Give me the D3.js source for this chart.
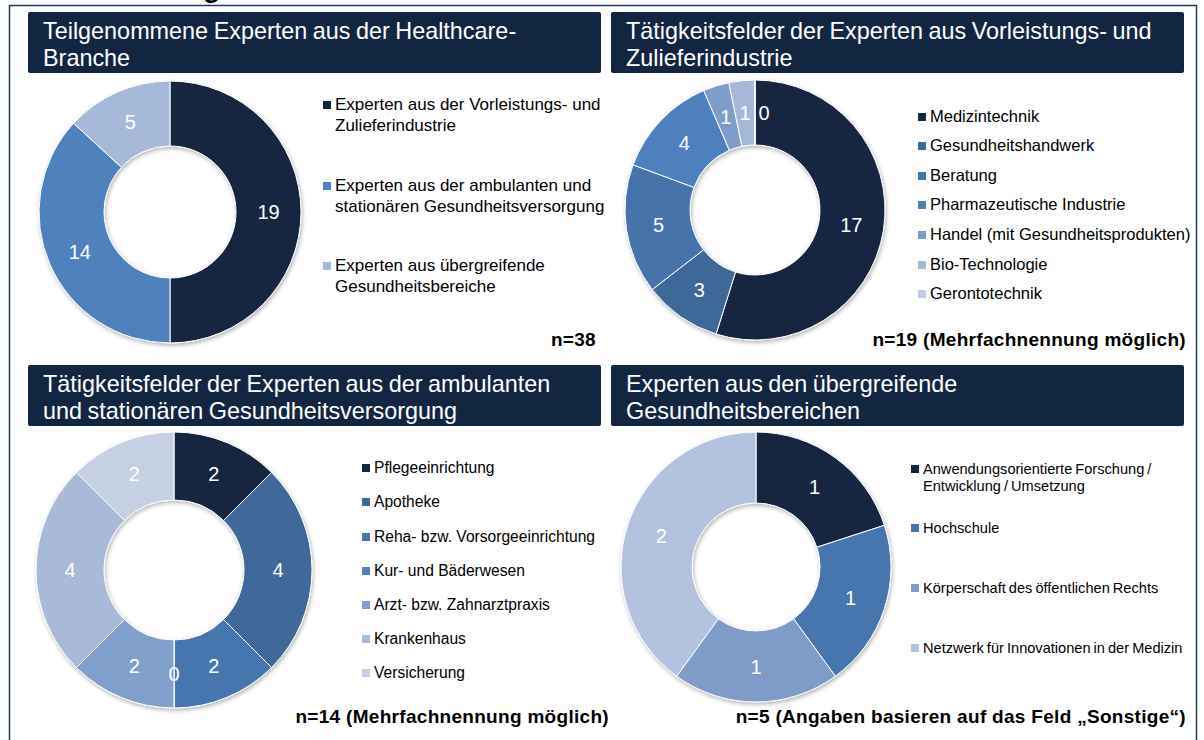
<!DOCTYPE html>
<html>
<head>
<meta charset="utf-8">
<script src="https://cdn.jsdelivr.net/npm/d3@7/dist/d3.min.js"></script>
<style>
  body { margin: 0; background: #fff; }
  svg { display: block; font-family: "Liberation Sans", Arial, sans-serif; }
</style>
</head>
<body>
<svg id="chart" width="1204" height="740"></svg>
<script>
// --- data ---
const branchenLabels = [
    ["Experten aus der Vorleistungs- und", "Zulieferindustrie"],
    ["Experten aus der ambulanten und", "stationären Gesundheitsversorgung"],
    ["Experten aus  übergreifende", "Gesundheitsbereiche"]
];
const branchenValues = [19, 14, 5];

const zulieferLabels = [
    "Medizintechnik", "Gesundheitshandwerk", "Beratung", "Pharmazeutische Industrie",
    "Handel (mit Gesundheitsprodukten)", "Bio-Technologie", "Gerontotechnik"
];
const zulieferValues = [17, 3, 5, 4, 1, 1, 0];

const versorgungLabels = [
    "Pflegeeinrichtung", "Apotheke", "Reha- bzw. Vorsorgeeinrichtung", "Kur- und Bäderwesen",
    "Arzt- bzw. Zahnarztpraxis", "Krankenhaus", "Versicherung"
];
const versorgungValues = [2, 4, 2, 0, 2, 4, 2];

const uebergreifendLabels = [
    ["Anwendungsorientierte Forschung /", "Entwicklung / Umsetzung"],
    ["Hochschule"],
    ["Körperschaft des öffentlichen Rechts"],
    ["Netzwerk für Innovationen in der Medizin"]
];
const uebergreifendValues = [1, 1, 1, 2];

// --- colours ---
const navy = "#132641";
const branchenColors = [navy, "#4f81bd", "#a7b9d8"];
const zulieferColors = [navy, "#3e6797", "#4573aa", "#4e80bd", "#7e9dca", "#a6b8d8", "#c3cfe4"];
const versorgungColors = [navy, "#3f6898", "#4776ae", "#4f81bd", "#809fcb", "#a9b9d8", "#c5d0e3"];
const uebergreifendColors = [navy, "#4675ae", "#7f9cc8", "#b3c3df"];

const svg = d3.select("#chart");

const defs = svg.append("defs");
defs.append("filter")
    .attr("id", "shadow")
    .attr("x", "-20%").attr("y", "-20%")
    .attr("width", "140%").attr("height", "140%")
    .append("feDropShadow")
    .attr("dx", 1).attr("dy", 2)
    .attr("stdDeviation", 2)
    .attr("flood-color", "#000")
    .attr("flood-opacity", 0.3);

// heading of the slide, cut off at the top edge (as in the original)
svg.append("text")
    .attr("x", 203).attr("y", -3)
    .attr("font-size", 28)
    .attr("font-weight", "bold")
    .text("g");

// outer frame
svg.append("rect")
    .attr("x", 9.5).attr("y", 5.5)
    .attr("width", 1187).attr("height", 760)
    .attr("fill", "none")
    .attr("stroke", "#1f3864")
    .attr("stroke-width", 1.5);

const panels = [
    {
        title: ["Teilgenommene Experten aus der Healthcare-", "Branche"],
        bar: [28, 12], labels: branchenLabels, values: branchenValues, colors: branchenColors,
        cx: 170, cy: 212, r0: 66, r1: 131, zeroShift: 0,
        legend: { x: 323, y: [110, 191, 271], line: 21, size: 17, ws: 0 },
        note: "n=38", noteX: 596, noteY: 346
    },
    {
        title: ["Tätigkeitsfelder der Experten aus Vorleistungs- und", "Zulieferindustrie"],
        bar: [611, 12], labels: zulieferLabels.map(d => [d]), values: zulieferValues, colors: zulieferColors,
        cx: 755, cy: 210, r0: 65, r1: 130, zeroShift: 9,
        legend: { x: 918, y: [122, 151, 181, 210, 240, 270, 299], line: 0, size: 16.5, ws: 0 },
        note: "n=19 (Mehrfachnennung möglich)", noteX: 1186, noteY: 346
    },
    {
        title: ["Tätigkeitsfelder der Experten aus der ambulanten", "und stationären Gesundheitsversorgung"],
        bar: [28, 365], labels: versorgungLabels.map(d => [d]), values: versorgungValues, colors: versorgungColors,
        cx: 174, cy: 570, r0: 70, r1: 138, zeroShift: 0,
        legend: { x: 362, y: [473, 507, 542, 576, 610, 644, 678], line: 0, size: 15.6, ws: 0 },
        note: "n=14 (Mehrfachnennung möglich)", noteX: 609, noteY: 723
    },
    {
        title: ["Experten aus den übergreifende", "Gesundheitsbereichen"],
        bar: [611, 365], labels: uebergreifendLabels, values: uebergreifendValues, colors: uebergreifendColors,
        cx: 756, cy: 567, r0: 64, r1: 135, zeroShift: 0,
        legend: { x: 911, y: [474, 533, 593, 653], line: 17, size: 14.6, ws: -1 },
        note: "n=5 (Angaben basieren auf das Feld \u201eSonstige\u201c)", noteX: 1186, noteY: 723
    }
];

const pie = d3.pie().sort(null).value(d => d);

panels.forEach(p => {
    const g = svg.append("g");

    // title bar
    g.append("rect")
        .attr("x", p.bar[0]).attr("y", p.bar[1])
        .attr("width", 573).attr("height", 61)
        .attr("rx", 2)
        .attr("fill", navy);
    g.append("text")
        .attr("fill", "#fff")
        .attr("font-size", 23.4)
        .attr("word-spacing", -1)
        .selectAll("tspan")
        .data(p.title)
        .join("tspan")
        .attr("x", p.bar[0] + 15)
        .attr("y", (d, i) => p.bar[1] + 27 + i * 27)
        .text(d => d);

    // donut
    const arc = d3.arc().innerRadius(p.r0).outerRadius(p.r1);
    const arcs = pie(p.values);
    const donut = g.append("g").attr("transform", `translate(${p.cx},${p.cy})`);
    donut.append("g")
        .attr("filter", "url(#shadow)")
        .selectAll("path")
        .data(arcs)
        .join("path")
        .attr("d", arc)
        .attr("fill", (d, i) => p.colors[i])
        .attr("stroke", "#fff")
        .attr("stroke-width", 1);
    donut.selectAll("text.val")
        .data(arcs)
        .join("text")
        .attr("class", "val")
        .attr("transform", d => {
            const [x, y] = arc.centroid(d);
            return `translate(${x + (d.data === 0 ? p.zeroShift : 0)},${y})`;
        })
        .attr("text-anchor", "middle")
        .attr("dy", "0.35em")
        .attr("fill", "#fff")
        .attr("font-size", 20)
        .text(d => d.data);

    // legend
    const lg = g.append("g");
    p.labels.forEach((lines, i) => {
        const y = p.legend.y[i];
        lg.append("rect")
            .attr("x", p.legend.x).attr("y", y - 9)
            .attr("width", 8).attr("height", 8)
            .attr("fill", p.colors[i]);
        lg.append("text")
            .attr("font-size", p.legend.size)
            .attr("word-spacing", p.legend.ws)
            .attr("fill", "#000")
            .selectAll("tspan")
            .data(lines)
            .join("tspan")
            .attr("x", p.legend.x + 12)
            .attr("y", (d, j) => y + j * p.legend.line)
            .text(d => d);
    });

    g.append("text")
        .attr("x", p.noteX).attr("y", p.noteY)
        .attr("text-anchor", "end")
        .attr("font-size", 19)
        .attr("letter-spacing", 0.3)
        .attr("font-weight", "bold")
        .text(p.note);
});
</script>
</body>
</html>
